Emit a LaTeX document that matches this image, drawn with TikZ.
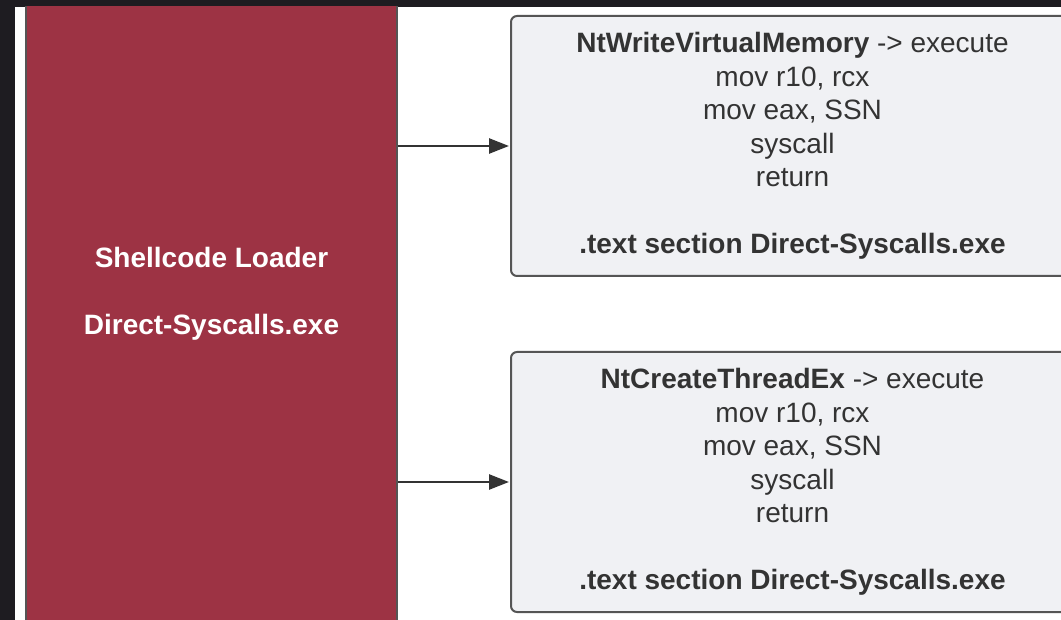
\documentclass[tikz,border=0pt]{standalone}
\usepackage{fontspec}
\setmainfont{Liberation Sans}
\usetikzlibrary{arrows.meta}
\definecolor{frame}{HTML}{1E1C21}
\definecolor{loaderred}{HTML}{9D3344}
\definecolor{boxfill}{HTML}{F0F1F4}
\definecolor{boxline}{HTML}{555555}
\definecolor{ink}{HTML}{333333}
\tikzset{
  loaderbox/.style={draw=boxline, line width=2.5pt, fill=loaderred, text=white,
    minimum width=371pt, minimum height=663pt, inner sep=0pt, align=center,
    font=\bfseries\fontsize{28}{33.5}\selectfont},
  callbox/.style={draw=boxline, line width=2pt, fill=boxfill, text=ink,
    rounded corners=6pt, minimum width=563pt, minimum height=260pt,
    inner sep=0pt, align=center, font=\fontsize{28}{33.5}\selectfont},
  callarrow/.style={draw=ink, line width=2.5pt,
    -{Triangle[length=20pt,width=15pt]}, shorten >=1pt},
}
\begin{document}
\begin{tikzpicture}[x=1pt,y=-1pt]
  \useasboundingbox (0,0) rectangle (1061,620);
  \fill[frame] (0,0) rectangle (1061,620);
  \fill[white] (15,7) rectangle (1061,620);
  \begin{scope}
    \clip (15,7) rectangle (1061,620);
    \node[loaderbox] (loader) at (211.5,294)
      {Shellcode Loader\\[33.5pt]Direct-Syscalls.exe};
    \node[callbox] (nt1) at (792.5,146)
      {\textbf{NtWriteVirtualMemory} -> execute\\mov r10, rcx\\mov eax, SSN\\syscall\\return\\[33.5pt]\textbf{.text section Direct-Syscalls.exe}};
    \node[callbox] (nt2) at (792.5,482)
      {\textbf{NtCreateThreadEx} -> execute\\mov r10, rcx\\mov eax, SSN\\syscall\\return\\[33.5pt]\textbf{.text section Direct-Syscalls.exe}};
    \draw[callarrow] (loader.east |- nt1.west) -- (nt1.west);
    \draw[callarrow] (loader.east |- nt2.west) -- (nt2.west);
  \end{scope}
\end{tikzpicture}
\end{document}
